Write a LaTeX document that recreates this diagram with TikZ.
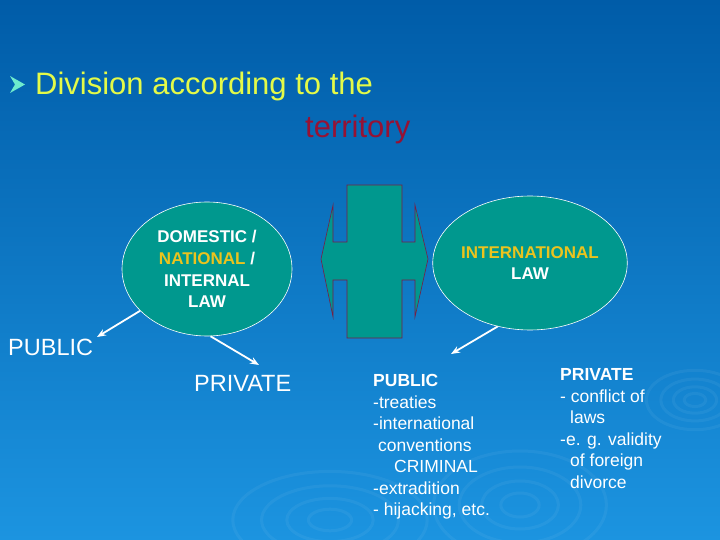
\documentclass[tikz,border=0pt]{standalone}
\usepackage{fontspec}
\setmainfont{Liberation Sans}
\usetikzlibrary{positioning,shapes.geometric,arrows.meta,calc}
\definecolor{slidetop}{RGB}{0,92,168}
\definecolor{slidebottom}{RGB}{28,148,224}
\definecolor{lawteal}{RGB}{0,152,142}
\definecolor{titleyellow}{RGB}{228,250,72}
\definecolor{territoryred}{RGB}{150,18,52}
\definecolor{nationalgold}{RGB}{235,195,30}
\definecolor{crossedge}{RGB}{120,30,70}
\definecolor{bulletcyan}{RGB}{110,235,205}
\tikzset{
    law ellipse/.style={
        ellipse,
        minimum width=170pt,
        minimum height=134pt,
        inner sep=0pt,
        fill=lawteal,
        draw=white,
        line width=0.6pt,
        text=white,
        align=center,
        font=\fontsize{17}{21.7}\selectfont\bfseries
    },
    law arrow/.style={-{Stealth[length=9pt,width=7pt]},draw=white,line width=1.8pt},
    branch label/.style={text=white,inner sep=0pt,font=\fontsize{23.5}{26}\selectfont},
    branch list/.style={text=white,inner sep=0pt,align=left,font=\fontsize{17.5}{21.5}\selectfont},
    ripple/.style={draw=white,opacity=0.05,line width=3pt}
}
\begin{document}
\begin{tikzpicture}[x=1pt,y=-1pt]
    \useasboundingbox (0,0) rectangle (720,540);
    % slide background
    \fill[top color=slidetop,bottom color=slidebottom] (0,0) rectangle (720,540);
    \foreach \r in {12,24,38,54}{
        \draw[ripple] (520,505) ellipse ({1.6*\r} and {\r});
        \draw[ripple] (695,400) ellipse ({0.9*\r} and {0.55*\r});
        \draw[ripple] (330,520) ellipse ({1.8*\r} and {0.9*\r});
    }

    % title
    \fill[bulletcyan] (10,76) -- (25,84.5) -- (10,93) -- (15,84.5) -- cycle;
    \node[anchor=base west,inner sep=0pt,text=titleyellow,font=\fontsize{31}{36}\selectfont] (title) at (35,94.5) {Division according to the};
    \node[anchor=base west,inner sep=0pt,text=territoryred,font=\fontsize{31}{36}\selectfont] (territory) at (305,138) {territory};

    % the two kinds of law
    \node[law ellipse] (domestic-law) at (207,269) {DOMESTIC /\\\textcolor{nationalgold}{NATIONAL} /\\INTERNAL\\LAW};
    \node[law ellipse] (international-law) at (530,263) {\textcolor{nationalgold}{INTERNATIONAL}\\LAW};

    % cross arrow between them
    \filldraw[fill=lawteal,draw=crossedge,line width=0.6pt]
        (347,185) -- (402,185) -- (402,242) -- (415,242) -- (415,205) -- (428,259)
        -- (415,317) -- (415,280) -- (402,280) -- (402,338) -- (347,338) -- (347,280)
        -- (333,280) -- (333,317) -- (321,259) -- (333,205) -- (333,242) -- (347,242) -- cycle;

    % domestic branches
    \node[branch label,anchor=base west] (public-dom) at (8,355.5) {PUBLIC};
    \node[branch label,anchor=base west] (private-dom) at (194,391) {PRIVATE};
    \coordinate (public-dom-tip) at (97,337);
    \coordinate (private-dom-tip) at (259,365);
    \draw[law arrow] (domestic-law.212) -- (public-dom-tip);
    \draw[law arrow] (domestic-law.273) -- (private-dom-tip);

    % international branches (base = last line)
    \coordinate (public-int-tip) at (451,354);
    \draw[law arrow] (international-law.243) -- (public-int-tip);
    \node[branch list,anchor=base west] (public-int) at (373,515.7)
        {\textbf{PUBLIC}\\-treaties\\-international\\\hspace*{5pt}conventions\\\hspace*{21pt}CRIMINAL\\-extradition\\- hijacking, etc.};
    \node[branch list,anchor=base west] (private-int) at (560,488.2)
        {\textbf{PRIVATE}\\- conflict of\\\hspace*{10pt}laws\\-e. g. validity\\\hspace*{10pt}of foreign\\\hspace*{10pt}divorce};
\end{tikzpicture}
\end{document}
